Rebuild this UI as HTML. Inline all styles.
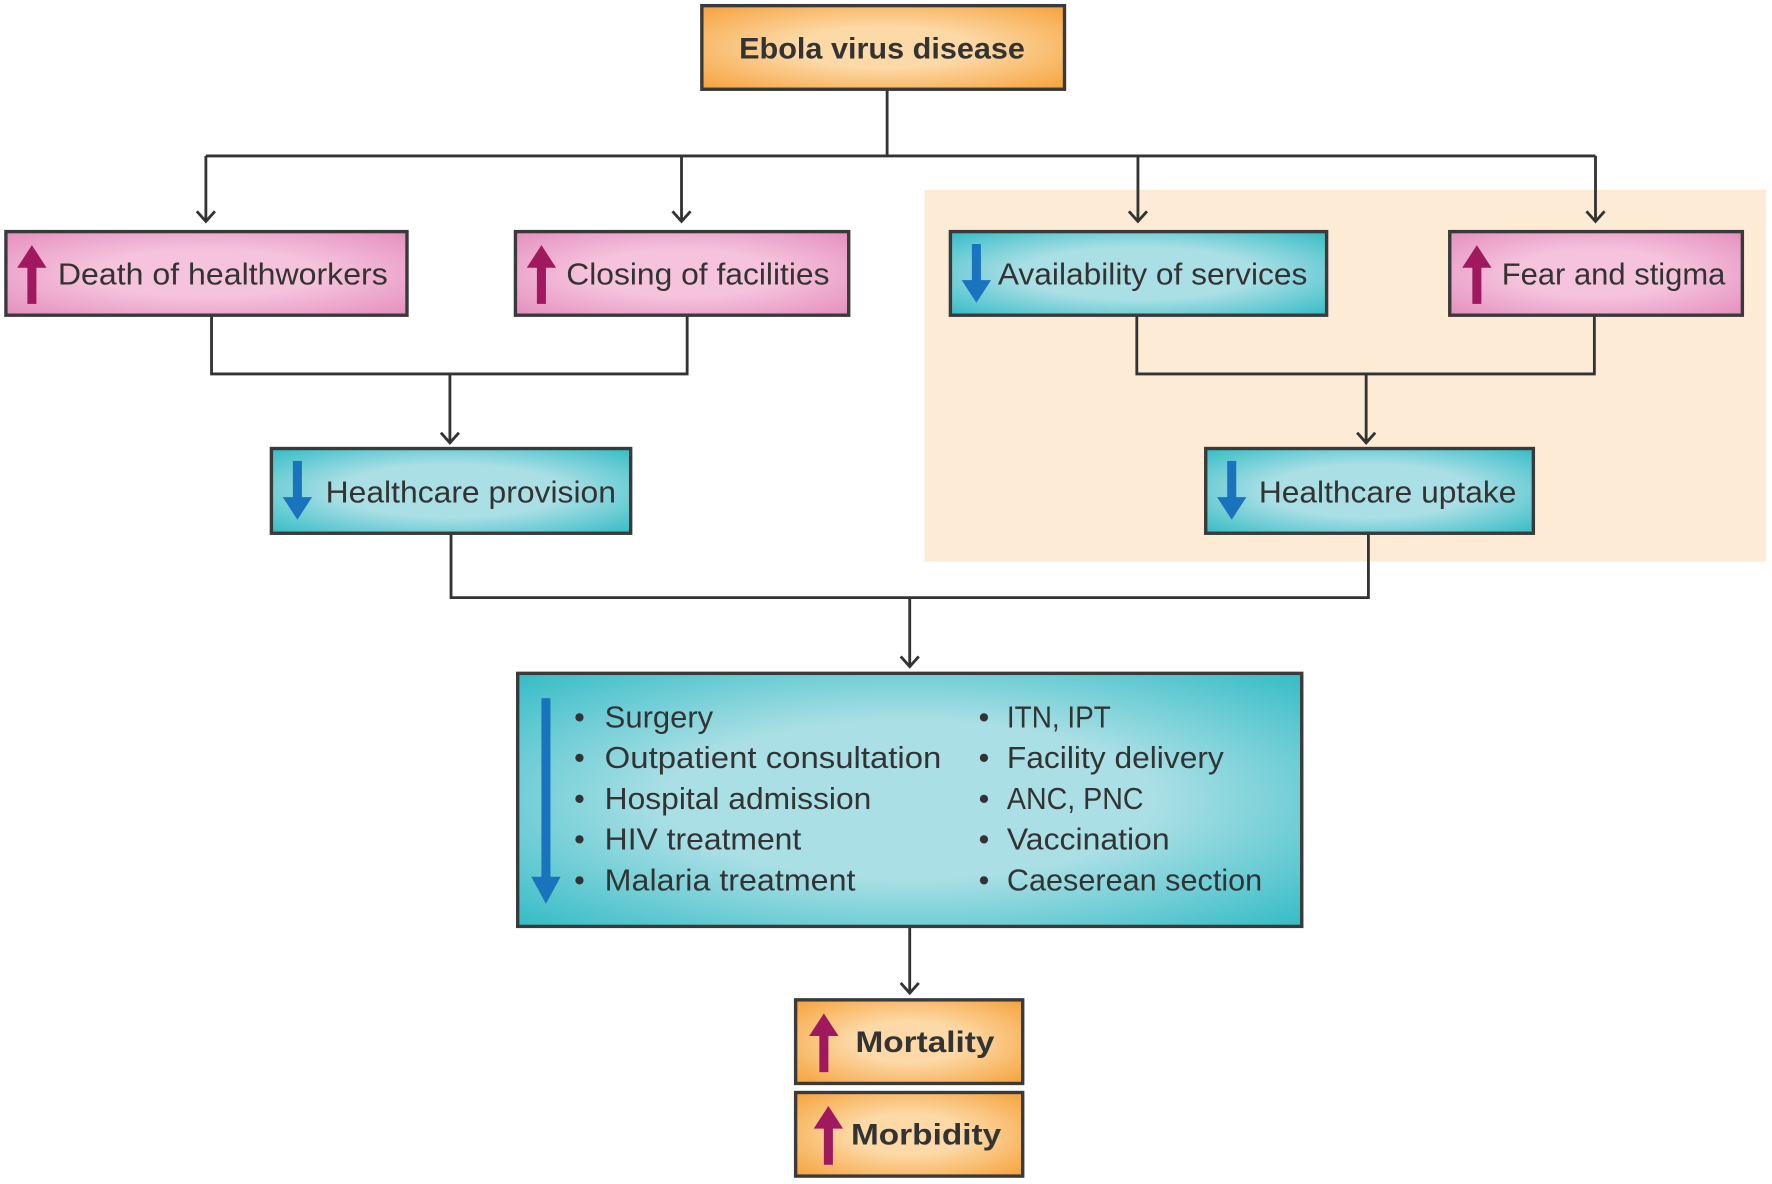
<!DOCTYPE html>
<html><head><meta charset="utf-8"><style>
html,body{margin:0;padding:0;background:#fff}
svg{display:block}
text{font-family:"Liberation Sans",sans-serif;fill:#333}
</style></head><body>
<svg width="1772" height="1184" viewBox="0 0 1568 1048" xmlns="http://www.w3.org/2000/svg">
<defs>
<radialGradient id="pk" cx="50%" cy="50%" r="70%"><stop offset="0.4" stop-color="#f5c3dc"/><stop offset="1" stop-color="#e58fbf"/></radialGradient>
<radialGradient id="tl" cx="50%" cy="50%" r="70%"><stop offset="0.45" stop-color="#a9dfe5"/><stop offset="1" stop-color="#36bcc6"/></radialGradient>
<radialGradient id="og" cx="50%" cy="50%" r="70%"><stop offset="0.35" stop-color="#fcd9a6"/><stop offset="1" stop-color="#f6a23c"/></radialGradient>
<g id="up"><rect x="-4" y="18" width="8" height="34" fill="#a0195e"/><polygon points="-13,20 0,0 13,20" fill="#a0195e"/></g>
<g id="dn"><rect x="-4" y="0" width="8" height="34" fill="#1a73bd"/><polygon points="-13,32 0,52 13,32" fill="#1a73bd"/></g>
</defs>
<rect x="818" y="168" width="745" height="329" fill="#fdebd6"/>
<g stroke="#333" stroke-width="2.5" fill="none">
<path d="M785 79V138M182 138H1412M182 138V195M603 138V195M1007 138V195M1412 138V195"/>
<path d="M187 279V331H608V279M398 331V391"/>
<path d="M1006 279V331H1411V279M1209 331V391"/>
<path d="M399 472V529H1211V472M805 529V589"/>
<path d="M805 820V878"/>
<path d="M174 187L182 196L190 187M595 187L603 196L611 187M999 187L1007 196L1015 187M1404 187L1412 196L1420 187M390 383L398 392L406 383M1201 383L1209 392L1217 383M797 581L805 590L813 581M797 870L805 879L813 870"/>
</g>
<g stroke="#3a3a3a" stroke-width="3">
<rect x="621" y="5" width="321" height="74" fill="url(#og)"/>
<rect x="5" y="205" width="355" height="74" fill="url(#pk)"/>
<rect x="456" y="205" width="295" height="74" fill="url(#pk)"/>
<rect x="841" y="205" width="333" height="74" fill="url(#tl)"/>
<rect x="1283" y="205" width="259" height="74" fill="url(#pk)"/>
<rect x="240" y="397" width="318" height="75" fill="url(#tl)"/>
<rect x="1067" y="397" width="290" height="75" fill="url(#tl)"/>
<rect x="458" y="596" width="694" height="224" fill="url(#tl)"/>
<rect x="704" y="885" width="201" height="74" fill="url(#og)"/>
<rect x="704" y="967" width="201" height="74" fill="url(#og)"/>
</g>
<use href="#up" x="28" y="217"/>
<use href="#up" x="479" y="217"/>
<use href="#dn" x="864" y="216"/>
<use href="#up" x="1307" y="217"/>
<use href="#dn" x="263" y="408"/>
<use href="#dn" x="1090" y="408"/>
<use href="#up" x="729" y="897"/>
<use href="#up" x="733" y="979"/>
<rect x="479" y="618" width="8" height="160" fill="#1a73bd"/>
<polygon points="470,776 483,800 496,776" fill="#1a73bd"/>
<text x="654" y="52" font-size="26" font-weight="bold" textLength="253" lengthAdjust="spacingAndGlyphs" fill="#222">Ebola virus disease</text>
<g font-size="27" lengthAdjust="spacingAndGlyphs">
<text x="51" y="252" textLength="292" lengthAdjust="spacingAndGlyphs">Death of healthworkers</text>
<text x="501" y="252" textLength="233" lengthAdjust="spacingAndGlyphs">Closing of facilities</text>
<text x="883" y="252" textLength="274" lengthAdjust="spacingAndGlyphs">Availability of services</text>
<text x="1329" y="252" textLength="198" lengthAdjust="spacingAndGlyphs">Fear and stigma</text>
<text x="288" y="445" textLength="257" lengthAdjust="spacingAndGlyphs">Healthcare provision</text>
<text x="1114" y="445" textLength="228" lengthAdjust="spacingAndGlyphs">Healthcare uptake</text>
</g>
<g font-size="27">
<text x="508" y="644">•</text><text x="508" y="680">•</text><text x="508" y="716">•</text><text x="508" y="752">•</text><text x="508" y="788">•</text>
<text x="866" y="644">•</text><text x="866" y="680">•</text><text x="866" y="716">•</text><text x="866" y="752">•</text><text x="866" y="788">•</text>
<text x="535" y="644" textLength="96" lengthAdjust="spacingAndGlyphs">Surgery</text>
<text x="535" y="680" textLength="298" lengthAdjust="spacingAndGlyphs">Outpatient consultation</text>
<text x="535" y="716" textLength="236" lengthAdjust="spacingAndGlyphs">Hospital admission</text>
<text x="535" y="752" textLength="174" lengthAdjust="spacingAndGlyphs">HIV treatment</text>
<text x="535" y="788" textLength="222" lengthAdjust="spacingAndGlyphs">Malaria treatment</text>
<text x="891" y="644" textLength="92" lengthAdjust="spacingAndGlyphs">ITN, IPT</text>
<text x="891" y="680" textLength="192" lengthAdjust="spacingAndGlyphs">Facility delivery</text>
<text x="891" y="716" textLength="121" lengthAdjust="spacingAndGlyphs">ANC, PNC</text>
<text x="891" y="752" textLength="144" lengthAdjust="spacingAndGlyphs">Vaccination</text>
<text x="891" y="788" textLength="226" lengthAdjust="spacingAndGlyphs">Caeserean section</text>
</g>
<text x="757" y="931" font-size="26" font-weight="bold" fill="#222" textLength="123" lengthAdjust="spacingAndGlyphs">Mortality</text>
<text x="753" y="1013" font-size="26" font-weight="bold" fill="#222" textLength="133" lengthAdjust="spacingAndGlyphs">Morbidity</text>
</svg>
</body></html>
